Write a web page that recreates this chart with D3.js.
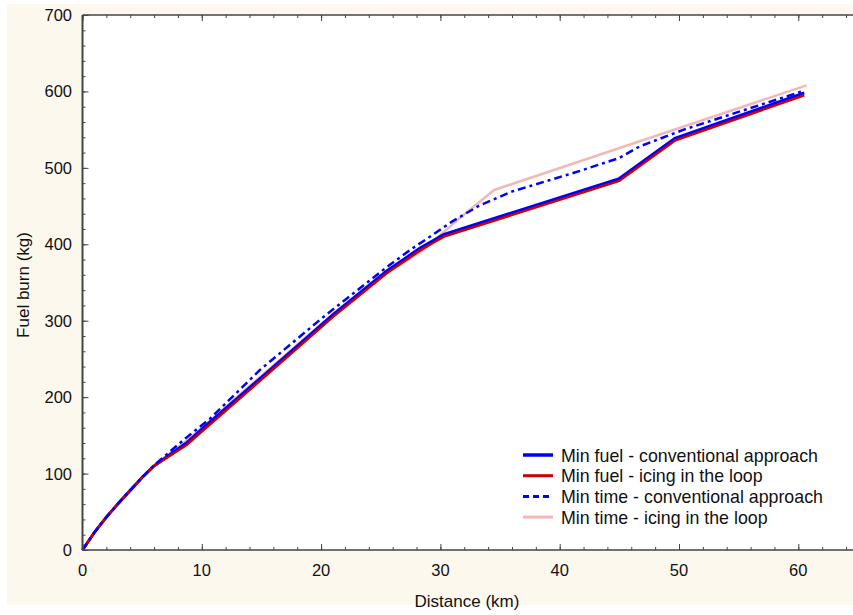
<!DOCTYPE html>
<html>
<head>
<meta charset="utf-8">
<script src="https://cdn.jsdelivr.net/npm/d3@7"></script>
<style>
  body { margin: 0; background: #fff; }
  svg { display: block; font-family: Arial, "Liberation Sans", sans-serif; }
</style>
</head>
<body>
<div id="chart"></div>
<script>
// distance (km) / fuel burn (kg)
var minFuelConv = [
  [0, 0], [1, 23], [2, 43], [3, 61], [4, 78], [5, 95], [6, 110],
  [8.7, 140], [10, 158], [15, 226], [21, 308], [25.5, 365], [28.3, 395],
  [29.4, 405], [30.3, 413], [45, 486], [49.7, 539], [60.5, 598]
];
var minFuelIcing = [
  [0, 0], [1, 23], [2, 43], [3, 61], [4, 78], [5, 95], [6, 110],
  [8.7, 137], [10, 155], [15, 223], [21, 305], [25.5, 362], [28.3, 392],
  [29.4, 402], [30.3, 410], [45, 483], [49.7, 536], [60.5, 595]
];
var minTimeConv = [
  [0, 0], [1, 23], [2, 43], [3, 61], [4, 78], [5, 95], [6, 111],
  [8.7, 147], [10.7, 172], [14.9, 236], [20.2, 305], [25.5, 370],
  [27.5, 393], [29.7, 416], [31, 430], [33.3, 451], [36, 469], [41.7, 496],
  [45, 513], [46.7, 528], [50.4, 550], [60.5, 601]
];
var minTimeIcing = [
  [0, 0], [1, 23], [2, 43], [3, 61], [4, 78], [5, 95], [6, 111],
  [8.7, 143], [10, 160], [15, 228], [21, 309], [25.8, 368],
  [26.5, 372], [28.6, 393], [31.6, 434], [34.5, 471], [60.7, 608]
];

var seriesNames = [
  "Min fuel - conventional approach",
  "Min fuel - icing in the loop",
  "Min time - conventional approach",
  "Min time - icing in the loop"
];
var xTicks = [0, 10, 20, 30, 40, 50, 60];
var yTicks = [0, 100, 200, 300, 400, 500, 600, 700];

var width = 853, height = 615;
var margin = { left: 82.5, top: 15, bottom: 550 };

var svg = d3.select("#chart").append("svg")
  .attr("width", width)
  .attr("height", height);

// cream frame and white plot area
svg.append("rect")
  .attr("x", 7).attr("y", 4)
  .attr("width", width - 7).attr("height", 601)
  .attr("fill", "#fdf8ee");

var x = d3.scaleLinear().domain([0, 65]).range([margin.left, margin.left + 65 * 11.93]);
var y = d3.scaleLinear().domain([0, 700]).range([margin.bottom, margin.top]);

svg.append("rect")
  .attr("x", x(0)).attr("y", y(700))
  .attr("width", width - x(0)).attr("height", y(0) - y(700))
  .attr("fill", "#fff");

var line = d3.line()
  .x(function (d) { return x(d[0]); })
  .y(function (d) { return y(d[1]); });

var styles = [
  { data: minFuelConv, color: "#0000ff", width: 3, dash: null },
  { data: minFuelIcing, color: "#cc0000", width: 2.5, dash: null },
  { data: minTimeConv, color: "#0000ff", width: 2.5, dash: "8,4,3,4" },
  { data: minTimeIcing, color: "#f2b8b8", width: 2.5, dash: null }
];
var drawOrder = [3, 0, 1, 2];

drawOrder.forEach(function (i) {
  var s = styles[i];
  svg.append("path")
    .datum(s.data)
    .attr("fill", "none")
    .attr("stroke", s.color)
    .attr("stroke-width", s.width)
    .attr("stroke-dasharray", s.dash)
    .attr("stroke-linejoin", "round")
    .attr("d", line);
});

// axes, ticks pointing into the plot
var axisColor = "#444";
var xMinor = d3.range(0, 66, 2);
var yMinor = d3.range(0, 701, 20);

svg.append("g").attr("transform", "translate(0," + y(0) + ")")
  .call(d3.axisTop(x).tickValues(xMinor).tickSize(3).tickFormat(""));
svg.append("g").attr("transform", "translate(0," + y(700) + ")")
  .call(d3.axisBottom(x).tickValues(xMinor).tickSize(3).tickFormat(""));
svg.append("g").attr("transform", "translate(" + x(0) + ",0)")
  .call(d3.axisRight(y).tickValues(yMinor).tickSize(3).tickFormat(""));

svg.append("g").attr("transform", "translate(0," + y(0) + ")")
  .call(d3.axisTop(x).tickValues(xTicks).tickSize(6).tickFormat(""));
svg.append("g").attr("transform", "translate(0," + y(700) + ")")
  .call(d3.axisBottom(x).tickValues(xTicks).tickSize(6).tickFormat(""));
svg.append("g").attr("transform", "translate(" + x(0) + ",0)")
  .call(d3.axisRight(y).tickValues(yTicks).tickSize(6).tickFormat(""));

svg.selectAll(".domain").remove();
svg.selectAll(".tick line").attr("stroke", axisColor).attr("stroke-width", 1);

svg.append("line")
  .attr("x1", x(0)).attr("x2", width).attr("y1", y(0)).attr("y2", y(0))
  .attr("stroke", axisColor).attr("stroke-width", 1.5);
svg.append("line")
  .attr("x1", x(0)).attr("x2", width).attr("y1", y(700)).attr("y2", y(700))
  .attr("stroke", axisColor).attr("stroke-width", 1.5);
svg.append("line")
  .attr("x1", x(0)).attr("x2", x(0)).attr("y1", y(700)).attr("y2", y(0))
  .attr("stroke", axisColor).attr("stroke-width", 2);

// tick labels
svg.selectAll(".xlab").data(xTicks).enter().append("text")
  .attr("x", function (d) { return x(d); })
  .attr("y", 576)
  .attr("text-anchor", "middle")
  .attr("font-size", 16.5)
  .attr("fill", "#111")
  .text(function (d) { return d; });

svg.selectAll(".ylab").data(yTicks).enter().append("text")
  .attr("x", 72)
  .attr("y", function (d) { return y(d) + 6; })
  .attr("text-anchor", "end")
  .attr("font-size", 16.5)
  .attr("fill", "#111")
  .text(function (d) { return d; });

svg.append("text")
  .attr("x", 467).attr("y", 607)
  .attr("text-anchor", "middle")
  .attr("font-size", 17)
  .attr("fill", "#111")
  .text("Distance (km)");

svg.append("text")
  .attr("transform", "translate(29," + 285 + ") rotate(-90)")
  .attr("text-anchor", "middle")
  .attr("font-size", 17)
  .attr("fill", "#111")
  .text("Fuel burn (kg)");

// legend
var legend = svg.append("g").attr("transform", "translate(523,455)");
styles.forEach(function (s, i) {
  var g = legend.append("g").attr("transform", "translate(0," + i * 20.7 + ")");
  g.append("line")
    .attr("x1", 0).attr("x2", 30)
    .attr("stroke", s.color)
    .attr("stroke-width", i === 0 ? 3.5 : 3)
    .attr("stroke-dasharray", s.dash ? "6,4" : null);
  g.append("text")
    .attr("x", 38).attr("y", 6.5)
    .attr("font-size", 17.8)
    .attr("fill", "#111")
    .text(seriesNames[i]);
});
</script>
</body>
</html>
